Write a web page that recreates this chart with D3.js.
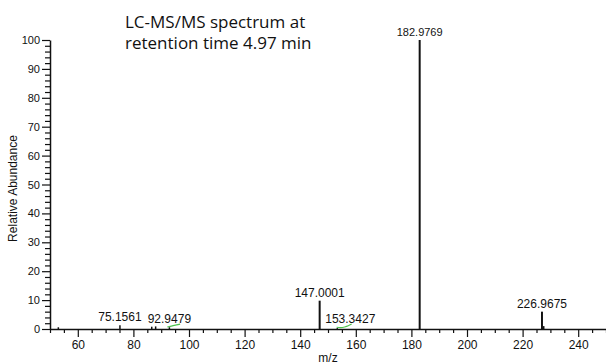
<!DOCTYPE html>
<html>
<head>
<meta charset="utf-8">
<script src="https://cdn.jsdelivr.net/npm/d3@7"></script>
<style>
  body { margin: 0; background: #fff; }
  text { font-family: "Liberation Sans", Arial, sans-serif; fill: #111; }
  .title { font-family: "Open Sans", sans-serif; font-size: 17px; }
</style>
</head>
<body>
<script>
// peaks: m/z and relative abundance (%)
const peakMz = [53.0, 75.1561, 86.6, 88.0, 92.9479, 147.0001, 153.3427, 182.9769, 226.9675, 227.6];
const peakInt = [0.6, 1.3, 0.8, 0.9, 0.6, 9.8, 0.3, 100, 6.0, 1.0];
// which peaks get a label
const labelled = ["75.1561", "92.9479", "147.0001", "153.3427", "182.9769", "226.9675"];

// two small green profile traces
const trace1Mz = [92.2, 94.0, 95.5, 96.8];
const trace1Int = [0.7, 1.1, 1.4, 1.7];
const trace2Mz = [153.1, 154.5, 156.0, 157.3, 158.5];
const trace2Int = [0.6, 0.5, 0.7, 1.1, 1.7];

const xTicks = [60, 80, 100, 120, 140, 160, 180, 200, 220, 240];
const yTicks = [0, 10, 20, 30, 40, 50, 60, 70, 80, 90, 100];

const width = 606, height = 364;
const plotLeft = 50, plotRight = 606, plotTop = 40, plotBottom = 329;

const svg = d3.select("body").append("svg")
    .attr("width", width)
    .attr("height", height);

const x = d3.scaleLinear().domain([50, 250]).range([plotLeft, plotRight]);
const y = d3.scaleLinear().domain([0, 100]).range([plotBottom, plotTop]);

// x axis: minor ticks every 5, major every 20
const xMinor = d3.range(50, 251, 5).filter(v => xTicks.indexOf(v) < 0);
svg.append("g")
    .attr("transform", "translate(0," + plotBottom + ")")
    .call(d3.axisBottom(x).tickValues(xMinor).tickSize(4).tickFormat(""))
    .call(g => g.select(".domain").remove())
    .selectAll("line").attr("stroke", "#111").attr("stroke-width", 1.2);

const xAxis = svg.append("g")
    .attr("transform", "translate(0," + plotBottom + ")")
    .call(d3.axisBottom(x).tickValues(xTicks).tickSize(8).tickSizeOuter(0).tickPadding(3));
xAxis.select(".domain").attr("stroke", "#111").attr("stroke-width", 1.5);
xAxis.selectAll("line").attr("stroke", "#111").attr("stroke-width", 1.2);
xAxis.selectAll("text").style("font-size", "12px").attr("fill", "#111");

// y axis: minor ticks every 2, major every 10
const yMinor = d3.range(0, 101, 2).filter(v => v % 10 !== 0);
svg.append("g")
    .attr("transform", "translate(" + plotLeft + ",0)")
    .call(d3.axisLeft(y).tickValues(yMinor).tickSize(5).tickFormat(""))
    .call(g => g.select(".domain").remove())
    .selectAll("line").attr("stroke", "#111").attr("stroke-width", 1.2);

const yAxis = svg.append("g")
    .attr("transform", "translate(" + plotLeft + ",0)")
    .call(d3.axisLeft(y).tickValues(yTicks).tickSize(8).tickSizeOuter(0).tickPadding(2));
yAxis.select(".domain").attr("stroke", "#111").attr("stroke-width", 1.5);
yAxis.selectAll("line").attr("stroke", "#111").attr("stroke-width", 1.2);
yAxis.selectAll("text").style("font-size", "11px").attr("fill", "#111");

// axis titles
svg.append("text")
    .attr("x", (plotLeft + plotRight) / 2)
    .attr("y", 362)
    .attr("text-anchor", "middle")
    .style("font-size", "12px")
    .text("m/z");

svg.append("text")
    .attr("transform", "translate(17," + ((plotTop + plotBottom) / 2 + 4) + ") rotate(-90)")
    .attr("text-anchor", "middle")
    .style("font-size", "12px")
    .text("Relative Abundance");

// green traces
const line = d3.line().curve(d3.curveMonotoneX);
[[trace1Mz, trace1Int], [trace2Mz, trace2Int]].forEach(function(t) {
    svg.append("path")
        .attr("d", line(t[0].map((m, i) => [x(m), y(t[1][i])])))
        .attr("fill", "none")
        .attr("stroke", "#4cc44c")
        .attr("stroke-width", 1.2);
});

// stick peaks
svg.selectAll(".peak")
    .data(peakMz)
    .enter()
    .append("line")
    .attr("class", "peak")
    .attr("x1", (m) => x(m))
    .attr("x2", (m) => x(m))
    .attr("y1", y(0))
    .attr("y2", (m, i) => y(peakInt[i]))
    .attr("stroke", "#111")
    .attr("stroke-width", (m, i) => peakInt[i] > 5 ? 2 : 1.5);

// peak labels (the 153 label sits a little to the right of its peak)
svg.selectAll(".plabel")
    .data(peakMz.filter(m => labelled.indexOf(m.toFixed(4)) >= 0))
    .enter()
    .append("text")
    .attr("class", "plabel")
    .attr("x", (m) => x(m) + (m > 150 && m < 160 ? 13 : 0))
    .attr("y", (m) => Math.min(y(peakInt[peakMz.indexOf(m)]) - 4, 323))
    .attr("text-anchor", "middle")
    .style("font-size", (m) => m > 180 && m < 190 ? "11px" : "12px")
    .text((m) => m.toFixed(4));

// title
const title = svg.append("text").attr("class", "title");
title.append("tspan").attr("x", 125).attr("y", 28).text("LC-MS/MS spectrum at");
title.append("tspan").attr("x", 125).attr("y", 49).text("retention time 4.97 min");
</script>
</body>
</html>
